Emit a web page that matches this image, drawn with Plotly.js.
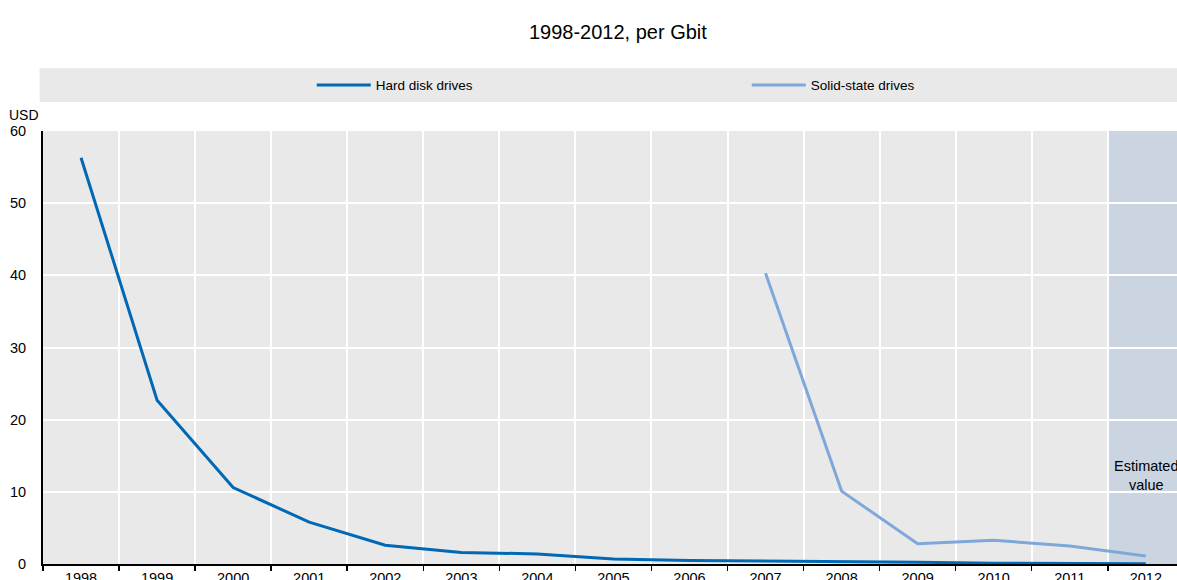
<!DOCTYPE html>
<html><head><meta charset="utf-8">
<script src="https://cdn.plot.ly/plotly-3.0.1.min.js"></script>
<style>body{margin:0;padding:0;background:#fff}#chart{width:1177px;height:580px}</style>
</head><body><div id="chart"></div>
<script>
const years = ["1998","1999","2000","2001","2002","2003","2004","2005","2006","2007","2008","2009","2010","2011","2012"];
const hdd = [56.3, 22.7, 10.6, 5.8, 2.6, 1.6, 1.4, 0.7, 0.5, 0.45, 0.3, 0.25, 0.1, 0.07, 0.05];
const ssdYears = ["2007","2008","2009","2010","2011","2012"];
const ssd = [40.3, 10.1, 2.8, 3.3, 2.5, 1.1];
const seriesNames = ["Hard disk drives", "Solid-state drives"];
const estimatedYear = "2012";

const font = {family: "Liberation Sans, Arial, sans-serif", color: "#000", size: 14};

const traces = [
  {x: years, y: hdd, name: seriesNames[0], type: "scatter", mode: "lines",
   line: {color: "#0068B4", width: 3}},
  {x: ssdYears, y: ssd, name: seriesNames[1], type: "scatter", mode: "lines",
   line: {color: "#7FA8DA", width: 3}}
];

const estIdx = years.indexOf(estimatedYear);
const layout = {
  width: 1177, height: 580,
  margin: {l: 43, r: 0, t: 131, b: 16, autoexpand: false},
  paper_bgcolor: "#fff", plot_bgcolor: "#e9e9e9",
  font: font,
  title: {text: "1998-2012, per Gbit", xref: "container", x: 0.525, xanchor: "center", y: 0.945, yanchor: "middle",
          font: {family: font.family, size: 20, color: "#000"}},
  showlegend: true,
  legend: {orientation: "h", x: 0.237, xanchor: "left", y: 1.106, yanchor: "middle",
           bgcolor: "rgba(0,0,0,0)", font: {family: font.family, size: 13.5, color: "#000"},
           entrywidth: 366, entrywidthmode: "pixels", itemwidth: 54},
  xaxis: {type: "category", range: [-0.5, 14.41], tickson: "boundaries",
          showgrid: true, gridcolor: "#fff", gridwidth: 2,
          ticks: "outside", ticklen: 5, tickcolor: "#000", tickwidth: 1.5,
          showline: true, linecolor: "#000", linewidth: 2,
          tickfont: {family: font.family, size: 14.5, color: "#000"}, fixedrange: true},
  yaxis: {range: [0, 60], dtick: 10, showgrid: true, gridcolor: "#fff", gridwidth: 2,
          zeroline: false, showline: true, linecolor: "#000", linewidth: 2,
          ticks: "", tickfont: {family: font.family, size: 14.5, color: "#000"},
          ticklabelstandoff: 12},
  shapes: [
    {type: "rect", xref: "paper", yref: "paper", x0: -0.003, x1: 1, y0: 1.067, y1: 1.145,
     fillcolor: "#e9e9e9", line: {width: 0}, layer: "below"},
    {type: "rect", xref: "x", yref: "paper", x0: estIdx - 0.5, x1: estIdx + 0.6, y0: 0, y1: 1,
     fillcolor: "#cbd5e1", opacity: 1, line: {width: 0}, layer: "below"}
  ],
  annotations: [
    {text: "USD", xref: "paper", yref: "paper", x: -0.032, xanchor: "left", y: 1.037, yanchor: "middle",
     showarrow: false, font: {family: font.family, size: 14, color: "#000"}},
    {text: "Estimated<br>value", xref: "paper", yref: "paper", x: 0.9725, xanchor: "center",
     y: 0.205, yanchor: "middle",
     showarrow: false, font: {family: font.family, size: 14.5, color: "#000"}}
  ]
};
Plotly.newPlot("chart", traces, layout, {displayModeBar: false, staticPlot: true});
</script></body></html>
